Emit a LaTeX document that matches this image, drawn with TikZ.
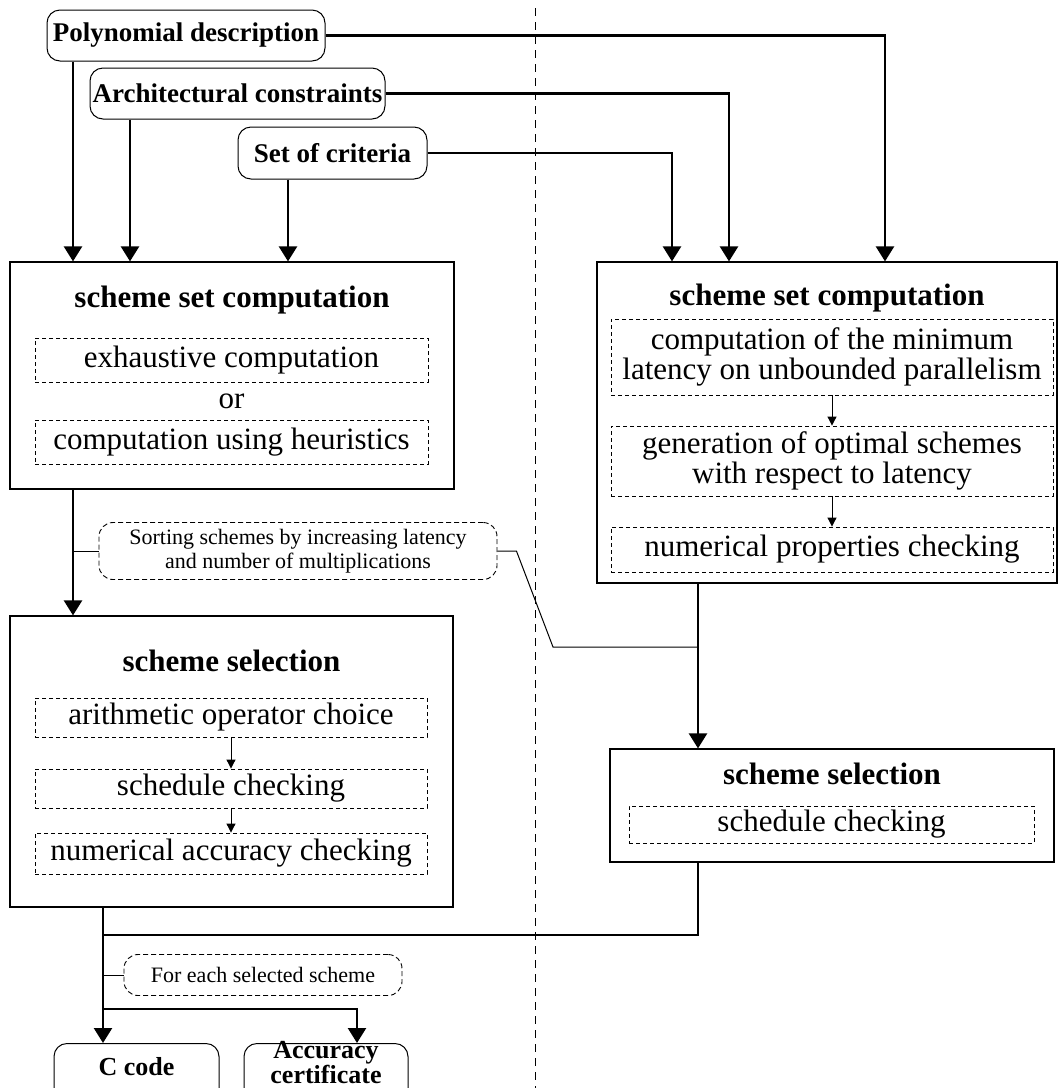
\documentclass[tikz,border=0pt]{standalone}
\usepackage{fontspec}
\setmainfont{Liberation Serif}
\usetikzlibrary{arrows.meta}
\begin{document}
\begin{tikzpicture}[x=1pt,y=-1pt,
  big/.style={line width=2.4pt,-{Triangle[width=18pt,length=15pt]}},
  plain/.style={line width=2.4pt},
  thin/.style={line width=1pt},
  smallarrow/.style={line width=1pt,-{Triangle[width=9pt,length=9pt]}},
  inbox/.style={draw,line width=1pt,inner sep=0pt,rounded corners=13pt,font=\fontsize{27}{22}\selectfont\bfseries,align=center},
  outtxt/.style={inner sep=0pt,font=\fontsize{26}{21}\selectfont\bfseries,align=center},
  frame/.style={draw,line width=1.2pt,inner sep=0pt},
  dbox/.style={draw,dash pattern=on 4pt off 3pt,line width=0.9pt,inner sep=0pt,font=\fontsize{31}{30}\selectfont,align=center},
  note/.style={draw,dash pattern=on 5pt off 3pt,line width=0.9pt,rounded corners=14pt,inner sep=0pt,font=\fontsize{22}{24}\selectfont,align=center},
  title/.style={font=\fontsize{31}{30}\selectfont\bfseries,inner sep=0pt},
  txt/.style={font=\fontsize{31}{30}\selectfont,inner sep=0pt}
]
\useasboundingbox (0,0) rectangle (1059,1088);

% separator
\draw[line width=0.8pt,dash pattern=on 8pt off 6pt] (535,8) -- (535,1088);

% inputs
\node[inbox,minimum width=278pt,minimum height=51pt] (poly) at (186,35.5) {Polynomial description};
\node[inbox,minimum width=295pt,minimum height=51pt] (arch) at (237.5,93.5) {Architectural constraints};
\node[inbox,minimum width=189pt,minimum height=52pt] (crit) at (332.5,153) {Set of criteria};

% left scheme set computation
\node[frame,minimum width=444pt,minimum height=227pt] (ssc1) at (232,375.5) {};
\node[title] (ssc1t) at (232,300) {scheme set computation};
\node[dbox,minimum width=393pt,minimum height=44pt] (exh) at (231.5,360) {exhaustive computation};
\node[txt] (or) at (231.5,401) {or};
\node[dbox,minimum width=393pt,minimum height=44pt] (heur) at (231.5,442) {computation using heuristics};

% right scheme set computation
\node[frame,minimum width=460pt,minimum height=321pt] (ssc2) at (827,422.5) {};
\node[title] (ssc2t) at (827,298) {scheme set computation};
\node[dbox,minimum width=442pt,minimum height=76pt] (minlat) at (832,357) {computation of the minimum\\latency on unbounded parallelism};
\node[dbox,minimum width=442pt,minimum height=70pt] (gen) at (832,461) {generation of optimal schemes\\with respect to latency};
\node[dbox,minimum width=442pt,minimum height=45pt] (nump) at (832,549.5) {numerical properties checking};
\draw[smallarrow] (minlat.south) -- (gen.north);
\draw[smallarrow] (gen.south) -- (nump.north);

% left scheme selection
\node[frame,minimum width=443pt,minimum height=291pt] (sel1) at (231.5,761.5) {};
\node[title] (sel1t) at (231.5,661) {scheme selection};
\node[dbox,minimum width=392pt,minimum height=39pt] (arith) at (231,717.5) {arithmetic operator choice};
\node[dbox,minimum width=392pt,minimum height=39pt] (sched1) at (231,788.5) {schedule checking};
\node[dbox,minimum width=392pt,minimum height=41pt] (numacc) at (231,853.5) {numerical accuracy checking};
\draw[smallarrow] (arith.south) -- (sched1.north);
\draw[smallarrow] (sched1.south) -- (numacc.north);

% right scheme selection
\node[frame,minimum width=444pt,minimum height=113pt] (sel2) at (832,805.5) {};
\node[title] (sel2t) at (832,774) {scheme selection};
\node[dbox,minimum width=405pt,minimum height=37pt] (sched2) at (831.5,824.5) {schedule checking};

% notes
\node[note,minimum width=398pt,minimum height=57pt] (sortn) at (298,551) {Sorting schemes by increasing latency\\and number of multiplications};
\node[note,minimum width=278pt,minimum height=41pt] (each) at (263,975) {For each selected scheme};

% outputs (boxes run past the bottom edge)
\node[inbox,minimum width=165pt,minimum height=70pt,anchor=north] (ccode) at (136.5,1043) {};
\node[outtxt] (ccodet) at (136.5,1067) {C code};
\node[inbox,minimum width=164pt,minimum height=70pt,anchor=north] (acc) at (326,1043) {};
\node[outtxt] (acct) at (326,1062.5) {Accuracy\\certificate};

% input connectors
\draw[big] (73,0 |- poly.south) -- (73,0 |- ssc1.north);
\draw[big] (130,0 |- arch.south) -- (130,0 |- ssc1.north);
\draw[big] (288,0 |- crit.south) -- (288,0 |- ssc1.north);
\draw[big] (poly.east) -| (885,0 |- ssc2.north);
\draw[big] (arch.east) -| (729,0 |- ssc2.north);
\draw[big] (crit.east) -| (672,0 |- ssc2.north);

% middle connectors
\draw[big] (73,0 |- ssc1.south) -- (73,0 |- sel1.north);
\draw[big] (698,0 |- ssc2.south) -- (698,0 |- sel2.north);
\coordinate (j1) at (698,647);
\draw[thin] (73,0 |- sortn.west) -- (sortn.west);
\draw[thin] (sortn.east) -- ++(19,0) -- (553,647) -- (j1);

% bottom connectors
\coordinate (j2) at (103,935);
\draw[big] (103,0 |- sel1.south) -- (103,0 |- ccode.north);
\draw[plain] (698,0 |- sel2.south) |- (j2);
\draw[thin] (103,0 |- each.west) -- (each.west);
\draw[big] (103,1009) -| (357,0 |- acc.north);
\end{tikzpicture}
\end{document}
